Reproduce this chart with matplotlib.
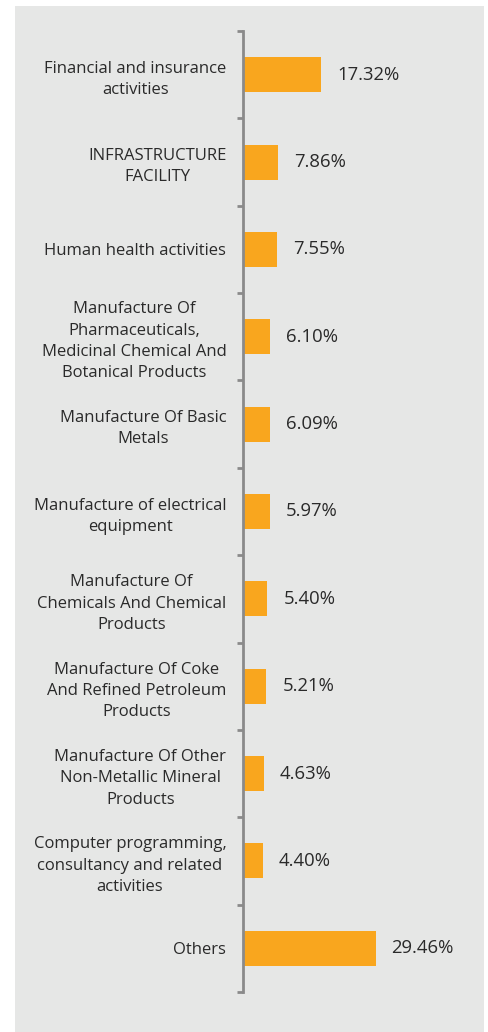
import matplotlib.pyplot as plt
from matplotlib.patches import Rectangle

categories = [
    "Financial and insurance\nactivities",
    "INFRASTRUCTURE\nFACILITY",
    "Human health activities",
    "Manufacture Of\nPharmaceuticals,\nMedicinal Chemical And\nBotanical Products",
    "Manufacture Of Basic\nMetals",
    "Manufacture of electrical\nequipment",
    "Manufacture Of\nChemicals And Chemical\nProducts",
    "Manufacture Of Coke\nAnd Refined Petroleum\nProducts",
    "Manufacture Of Other\nNon-Metallic Mineral\nProducts",
    "Computer programming,\nconsultancy and related\nactivities",
    "Others",
]
shares = [17.32, 7.86, 7.55, 6.10, 6.09, 5.97, 5.40, 5.21, 4.63, 4.40, 29.46]
value_labels = ["17.32%", "7.86%", "7.55%", "6.10%", "6.09%", "5.97%",
                "5.40%", "5.21%", "4.63%", "4.40%", "29.46%"]

W, H = 488, 1032
plt.rcParams['font.family'] = ['Open Sans', 'DejaVu Sans']

fig = plt.figure(figsize=(W / 100, H / 100), dpi=100, facecolor="white")
# grey panel behind the chart
fig.patches.append(Rectangle((15 / W, 0), (484 - 15) / W, (1026) / H,
                             transform=fig.transFigure, facecolor="#e6e7e6",
                             edgecolor="none", zorder=-5))

left, right = 243 / W, 468 / W
bottom, top = (H - 992) / H, (H - 31) / H
ax = fig.add_axes([left, bottom, right - left, top - bottom])
ax.patch.set_visible(False)

y = list(range(len(categories)))
ax.barh(y, shares, height=0.4, color="#f9a61e", zorder=2)
for yi, v, lab in zip(y, shares, value_labels):
    ax.annotate(lab, (v, yi), xytext=(16, 0), textcoords="offset pixels",
                va="center", ha="left", fontsize=13.3, color="#2a2a2a")

ax.set_xlim(0, 50)
ax.set_ylim(len(categories) - 0.5, -0.5)
ax.set_xticks([])
ax.set_yticks(y)
ax.set_yticklabels(categories, fontsize=12, color="#2a2a2a", ma="center",
                   linespacing=1.44)
ax.set_yticks([i - 0.5 for i in range(len(categories) + 1)], minor=True)
ax.tick_params(axis="y", which="major", length=0, pad=12)
ax.tick_params(axis="y", which="minor", length=4.5, width=2, color="#8a8a8a")

for s in ["top", "right", "bottom"]:
    ax.spines[s].set_visible(False)
ax.spines["left"].set_color("#8a8a8a")
ax.spines["left"].set_linewidth(2)

fig.savefig("out.png", dpi=100, facecolor="white")
